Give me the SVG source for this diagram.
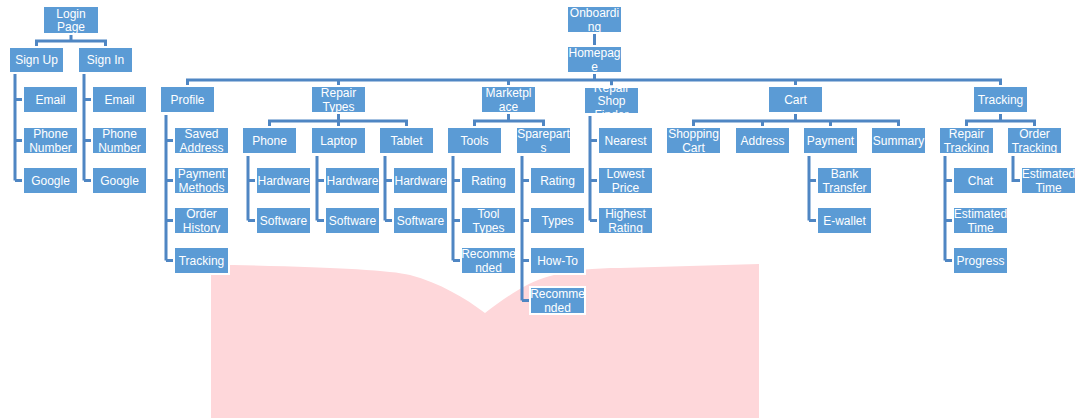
<svg xmlns="http://www.w3.org/2000/svg" width="1082" height="419" viewBox="0 0 1082 419">
<style>
.node rect{fill:#5b9bd5;stroke:#ffffff;stroke-width:4;paint-order:stroke}
.node text{fill:#ffffff;font-family:"Liberation Sans",Arial,sans-serif;font-size:12px;text-anchor:middle}
#connectors path{fill:none;stroke:#4f86c3;stroke-width:3;stroke-linejoin:miter}
</style>
<rect width="1082" height="419" fill="#ffffff"/>
<path id="bg-shape" d="M211,265 L233,265 C330,267 390,270 410,275 C440,283 465,298 485,313 C505,298 525,283 550,276 C570,270 595,268 620,268 L759,264 L759,418 L211,418 Z" fill="#fed7da"/>
<g id="connectors">
<path d="M71,33V41M36.5,48V41H105.5V48"/>
<path d="M15,74V180.5M15,99.5H24M15,140.5H24M15,180.5H24"/>
<path d="M84,74V180.5M84,99.5H93M84,140.5H93M84,180.5H93"/>
<path d="M594.5,32V47"/>
<path d="M594.5,72V80M187.5,87V80H1000.5V87M338.5,80V87M508.5,80V87M611.5,80V88M795.5,80V87"/>
<path d="M166,115V260.5M166,140.5H175M166,180.5H175M166,220.5H175M166,260.5H175"/>
<path d="M338.5,112V121M269.5,128V121H406.5V128M338.5,121V128"/>
<path d="M248,156V220.5M248,180.5H257M248,220.5H257"/>
<path d="M317,156V220.5M317,180.5H326M317,220.5H326"/>
<path d="M385,156V220.5M385,180.5H394M385,220.5H394"/>
<path d="M508.5,112V121M474.5,128V121H543.5V128"/>
<path d="M453,156V260.5M453,180.5H462M453,220.5H462M453,260.5H462"/>
<path d="M522,156V300.5M522,180.5H531M522,220.5H531M522,260.5H531M522,300.5H531"/>
<path d="M590,116V220.5M590,140.5H599M590,180.5H599M590,220.5H599"/>
<path d="M795.5,112V121M693.5,128V121H898.5V128M762.5,121V128M830.5,121V128"/>
<path d="M809,156V220.5M809,180.5H818M809,220.5H818"/>
<path d="M1000.5,112V121M966.5,128V121H1034.5V128"/>
<path d="M945,156V260.5M945,180.5H954M945,220.5H954M945,260.5H954"/>
<path d="M1013,156V180.5H1022"/>
</g>
<g id="n-login" class="node"><rect x="44" y="7" width="54" height="26"/><text x="71" y="17.5">Login</text><text x="71" y="31">Page</text></g>
<g id="n-signup" class="node"><rect x="10" y="48" width="53" height="24"/><text x="36.5" y="64.3">Sign Up</text></g>
<g id="n-signin" class="node"><rect x="79" y="48" width="53" height="24"/><text x="105.5" y="64.3">Sign In</text></g>
<g id="n-su-email" class="node"><rect x="24" y="87" width="53" height="25"/><text x="50.5" y="104">Email</text></g>
<g id="n-su-phone" class="node"><rect x="24" y="128" width="53" height="25"/><text x="50.5" y="138">Phone</text><text x="50.5" y="151.5">Number</text></g>
<g id="n-su-google" class="node"><rect x="24" y="168" width="53" height="25"/><text x="50.5" y="185">Google</text></g>
<g id="n-si-email" class="node"><rect x="93" y="87" width="53" height="25"/><text x="119.5" y="104">Email</text></g>
<g id="n-si-phone" class="node"><rect x="93" y="128" width="53" height="25"/><text x="119.5" y="138">Phone</text><text x="119.5" y="151.5">Number</text></g>
<g id="n-si-google" class="node"><rect x="93" y="168" width="53" height="25"/><text x="119.5" y="185">Google</text></g>
<g id="n-onboarding" class="node"><rect x="568" y="7" width="53" height="25"/><text x="594.5" y="17">Onboardi</text><text x="594.5" y="30.5">ng</text></g>
<g id="n-homepage" class="node"><rect x="568" y="47" width="53" height="25"/><text x="594.5" y="57">Homepag</text><text x="594.5" y="70.5">e</text></g>
<g id="n-profile" class="node"><rect x="161" y="87" width="53" height="25"/><text x="187.5" y="104">Profile</text></g>
<g id="n-saved-address" class="node"><rect x="175" y="128" width="53" height="25"/><text x="201.5" y="138">Saved</text><text x="201.5" y="151.5">Address</text></g>
<g id="n-payment-methods" class="node"><rect x="175" y="168" width="53" height="25"/><text x="201.5" y="178">Payment</text><text x="201.5" y="191.5">Methods</text></g>
<g id="n-order-history" class="node"><rect x="175" y="208" width="53" height="25"/><text x="201.5" y="218">Order</text><text x="201.5" y="231.5">History</text></g>
<g id="n-profile-tracking" class="node"><rect x="175" y="248" width="53" height="25"/><text x="201.5" y="265">Tracking</text></g>
<g id="n-repair-types" class="node"><rect x="312" y="87" width="53" height="25"/><text x="338.5" y="97">Repair</text><text x="338.5" y="110.5">Types</text></g>
<g id="n-phone" class="node"><rect x="243" y="128" width="53" height="25"/><text x="269.5" y="145">Phone</text></g>
<g id="n-laptop" class="node"><rect x="312" y="128" width="53" height="25"/><text x="338.5" y="145">Laptop</text></g>
<g id="n-tablet" class="node"><rect x="380" y="128" width="53" height="25"/><text x="406.5" y="145">Tablet</text></g>
<g id="n-phone-hw" class="node"><rect x="257" y="168" width="53" height="25"/><text x="283.5" y="185">Hardware</text></g>
<g id="n-phone-sw" class="node"><rect x="257" y="208" width="53" height="25"/><text x="283.5" y="225">Software</text></g>
<g id="n-laptop-hw" class="node"><rect x="326" y="168" width="53" height="25"/><text x="352.5" y="185">Hardware</text></g>
<g id="n-laptop-sw" class="node"><rect x="326" y="208" width="53" height="25"/><text x="352.5" y="225">Software</text></g>
<g id="n-tablet-hw" class="node"><rect x="394" y="168" width="53" height="25"/><text x="420.5" y="185">Hardware</text></g>
<g id="n-tablet-sw" class="node"><rect x="394" y="208" width="53" height="25"/><text x="420.5" y="225">Software</text></g>
<g id="n-marketplace" class="node"><rect x="482" y="87" width="53" height="25"/><text x="508.5" y="97">Marketpl</text><text x="508.5" y="110.5">ace</text></g>
<g id="n-tools" class="node"><rect x="448" y="128" width="53" height="25"/><text x="474.5" y="145">Tools</text></g>
<g id="n-spareparts" class="node"><rect x="517" y="128" width="53" height="25"/><text x="543.5" y="138">Sparepart</text><text x="543.5" y="151.5">s</text></g>
<g id="n-tools-rating" class="node"><rect x="462" y="168" width="53" height="25"/><text x="488.5" y="185">Rating</text></g>
<g id="n-tool-types" class="node"><rect x="462" y="208" width="53" height="25"/><text x="488.5" y="218">Tool</text><text x="488.5" y="231.5">Types</text></g>
<g id="n-tools-recommended" class="node"><rect x="462" y="248" width="53" height="25"/><text x="488.5" y="258">Recomme</text><text x="488.5" y="271.5">nded</text></g>
<g id="n-spare-rating" class="node"><rect x="531" y="168" width="53" height="25"/><text x="557.5" y="185">Rating</text></g>
<g id="n-spare-types" class="node"><rect x="531" y="208" width="53" height="25"/><text x="557.5" y="225">Types</text></g>
<g id="n-howto" class="node"><rect x="531" y="248" width="53" height="25"/><text x="557.5" y="265">How-To</text></g>
<g id="n-spare-recommended" class="node"><rect x="531" y="288" width="53" height="25"/><text x="557.5" y="298">Recomme</text><text x="557.5" y="311.5">nded</text></g>
<g id="n-repair-shop-finder" class="node"><rect x="585" y="88" width="53" height="25"/><text x="611.5" y="91.5">Repair</text><text x="611.5" y="105">Shop</text><text x="611.5" y="118.5">Finder</text></g>
<g id="n-nearest" class="node"><rect x="599" y="128" width="53" height="25"/><text x="625.5" y="145">Nearest</text></g>
<g id="n-lowest-price" class="node"><rect x="599" y="168" width="53" height="25"/><text x="625.5" y="178">Lowest</text><text x="625.5" y="191.5">Price</text></g>
<g id="n-highest-rating" class="node"><rect x="599" y="208" width="53" height="25"/><text x="625.5" y="218">Highest</text><text x="625.5" y="231.5">Rating</text></g>
<g id="n-cart" class="node"><rect x="769" y="87" width="53" height="25"/><text x="795.5" y="104">Cart</text></g>
<g id="n-shopping-cart" class="node"><rect x="667" y="128" width="53" height="25"/><text x="693.5" y="138">Shopping</text><text x="693.5" y="151.5">Cart</text></g>
<g id="n-address" class="node"><rect x="736" y="128" width="53" height="25"/><text x="762.5" y="145">Address</text></g>
<g id="n-payment" class="node"><rect x="804" y="128" width="53" height="25"/><text x="830.5" y="145">Payment</text></g>
<g id="n-summary" class="node"><rect x="872" y="128" width="53" height="25"/><text x="898.5" y="145">Summary</text></g>
<g id="n-bank-transfer" class="node"><rect x="818" y="168" width="53" height="25"/><text x="844.5" y="178">Bank</text><text x="844.5" y="191.5">Transfer</text></g>
<g id="n-ewallet" class="node"><rect x="818" y="208" width="53" height="25"/><text x="844.5" y="225">E-wallet</text></g>
<g id="n-tracking" class="node"><rect x="974" y="87" width="53" height="25"/><text x="1000.5" y="104">Tracking</text></g>
<g id="n-repair-tracking" class="node"><rect x="940" y="128" width="53" height="25"/><text x="966.5" y="138">Repair</text><text x="966.5" y="151.5">Tracking</text></g>
<g id="n-order-tracking" class="node"><rect x="1008" y="128" width="53" height="25"/><text x="1034.5" y="138">Order</text><text x="1034.5" y="151.5">Tracking</text></g>
<g id="n-chat" class="node"><rect x="954" y="168" width="53" height="25"/><text x="980.5" y="185">Chat</text></g>
<g id="n-rt-estimated" class="node"><rect x="954" y="208" width="53" height="25"/><text x="980.5" y="218">Estimated</text><text x="980.5" y="231.5">Time</text></g>
<g id="n-progress" class="node"><rect x="954" y="248" width="53" height="25"/><text x="980.5" y="265">Progress</text></g>
<g id="n-ot-estimated" class="node"><rect x="1022" y="168" width="53" height="25"/><text x="1048.5" y="178">Estimated</text><text x="1048.5" y="191.5">Time</text></g>
</svg>
